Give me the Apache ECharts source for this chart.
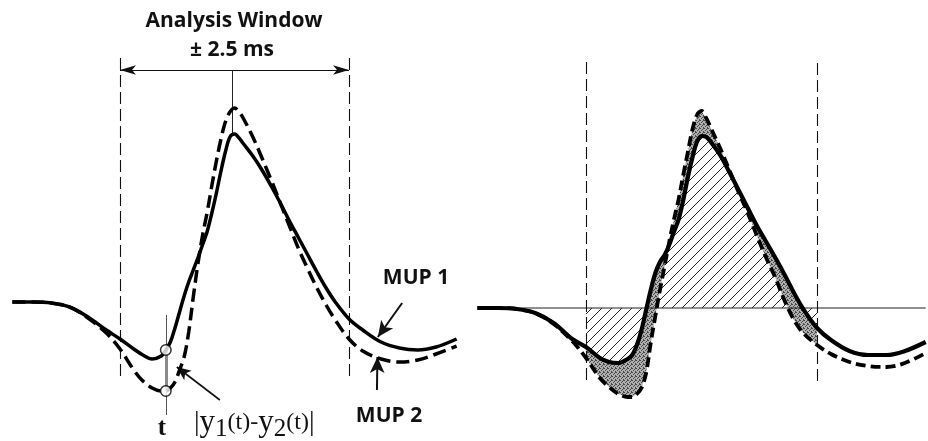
<!DOCTYPE html>
<html><head><meta charset="utf-8">
<script src="https://cdn.jsdelivr.net/npm/echarts@6/dist/echarts.min.js"></script>
<style>html,body{margin:0;padding:0;background:#fff}#c{width:928px;height:441px}</style>
</head><body><div id="c"></div>
<script>
// ---- data (time in ms relative to window centre, amplitude in arbitrary units) ----
const timeMs = [-4.85,-4.4,-4.0,-3.6,-3.2,-2.8,-2.5,-2.2,-2.0,-1.8,-1.6,-1.5,-1.4,-1.3,-1.2,-1.1,-1.0,-0.9,-0.8,-0.7,-0.6,-0.5,-0.4,-0.3,-0.2,-0.1,0,0.1,0.2,0.4,0.6,0.8,1.0,1.2,1.4,1.6,1.8,2.0,2.2,2.5,2.8,3.2,3.6,4.0,4.4,4.85];
const leftMup1 = [0,0,-0.01,-0.05,-0.15,-0.28,-0.37,-0.47,-0.53,-0.57,-0.54,-0.48,-0.40,-0.26,-0.10,0.06,0.20,0.32,0.44,0.57,0.70,0.88,1.08,1.30,1.50,1.65,1.68,1.64,1.58,1.46,1.32,1.16,0.99,0.81,0.64,0.47,0.30,0.14,0.00,-0.17,-0.28,-0.40,-0.46,-0.48,-0.45,-0.37];
const leftMup2 = [0,0,-0.01,-0.05,-0.16,-0.31,-0.47,-0.68,-0.79,-0.86,-0.89,-0.89,-0.86,-0.80,-0.68,-0.55,-0.30,0.05,0.38,0.66,0.89,1.15,1.40,1.62,1.80,1.90,1.94,1.90,1.83,1.65,1.44,1.22,0.99,0.76,0.53,0.33,0.14,-0.03,-0.18,-0.37,-0.49,-0.57,-0.60,-0.58,-0.52,-0.44];
const rightMup1 = [0,0,-0.01,-0.05,-0.15,-0.31,-0.39,-0.50,-0.54,-0.55,-0.51,-0.47,-0.37,-0.22,-0.02,0.18,0.35,0.46,0.53,0.63,0.76,0.88,1.07,1.30,1.50,1.66,1.72,1.71,1.66,1.53,1.36,1.18,1.00,0.82,0.66,0.50,0.33,0.15,-0.01,-0.20,-0.32,-0.43,-0.47,-0.47,-0.43,-0.34];
const rightMup2 = [0,0,-0.01,-0.05,-0.16,-0.33,-0.50,-0.70,-0.79,-0.86,-0.89,-0.89,-0.86,-0.80,-0.65,-0.35,-0.08,0.18,0.42,0.66,0.88,1.08,1.32,1.55,1.78,1.93,1.97,1.90,1.80,1.60,1.38,1.16,0.95,0.72,0.50,0.30,0.07,-0.12,-0.25,-0.37,-0.46,-0.54,-0.58,-0.59,-0.55,-0.45];
const windowHalfMs = 2.5;
const markerTimeMs = -1.5;
const titleLines = ['Analysis Window', '\u00B1 2.5 ms'];
const seriesLabels = ['MUP 1', 'MUP 2'];
const markerLabel = 't';

// ---- helpers ----
const pts = arr => timeMs.map((t, i) => [t, arr[i]]);
const inWin = timeMs.map(t => Math.abs(t) <= windowHalfMs + 1e-9);
const winPts = arr => pts(arr).filter((p, i) => inWin[i]);
const commonArr = rightMup1.map((v, i) => {
  const w = rightMup2[i];
  if (v * w <= 0) return 0;
  return Math.sign(v) * Math.min(Math.abs(v), Math.abs(w));
});
const mIdx = timeMs.indexOf(markerTimeMs);
const peakIdx = leftMup1.indexOf(Math.max(...leftMup1));

function hatchPattern() {
  const c = document.createElement('canvas'); c.width = 10; c.height = 10;
  const g = c.getContext('2d');
  g.strokeStyle = '#222'; g.lineWidth = 1;
  g.beginPath();
  g.moveTo(0, 10); g.lineTo(10, 0);
  g.moveTo(-1, 1); g.lineTo(1, -1);
  g.moveTo(9, 11); g.lineTo(11, 9);
  g.stroke();
  return c;
}
function stipplePattern() {
  const c = document.createElement('canvas'); c.width = 4; c.height = 4;
  const g = c.getContext('2d');
  g.fillStyle = '#b0b0b0'; g.fillRect(0, 0, 4, 4);
  g.fillStyle = '#474747';
  [[0,0],[2,1],[1,2],[3,3],[3,0]].forEach(p => g.fillRect(p[0], p[1], 1, 1));
  return c;
}
const hatch = hatchPattern();
const stipple = stipplePattern();

const base = {type: 'line', symbol: 'none', showSymbol: false, silent: true, animation: false, emphasis: {disabled: true}};
const thin = {color: '#111', width: 1.1, type: [12, 5]};
const arrowEnd = s => ({symbol: 'arrow', symbolSize: s});

const chart = echarts.init(document.getElementById('c'), null, {renderer: 'canvas'});
const option = {
  animation: false,
  backgroundColor: '#fff',
  grid: [
    {left: 5.5, width: 462.6, top: 0, height: 441},
    {left: 470.5, width: 461.3, top: 0, height: 441}
  ],
  xAxis: [
    {type: 'value', gridIndex: 0, min: -5, max: 5.1, show: false},
    {type: 'value', gridIndex: 1, min: -5, max: 4.9, show: false}
  ],
  yAxis: [
    {type: 'value', gridIndex: 0, min: -1.39, max: 3.02, show: false},
    {type: 'value', gridIndex: 1, min: -1.33, max: 3.08, show: false}
  ],
  series: [
    // ---------- left panel ----------
    Object.assign({}, base, {
      name: 'MUP 1 (left)', xAxisIndex: 0, yAxisIndex: 0, clip: false, z: 5,
      data: pts(leftMup1), smooth: 0.35,
      lineStyle: {color: '#000', width: 3.5},
      markLine: {
        silent: true, animation: false, symbol: ['none', 'none'], label: {show: false},
        lineStyle: {color: '#111', width: 1, type: 'solid'},
        data: [
          [{coord: [-windowHalfMs, 2.44], lineStyle: thin}, {coord: [-windowHalfMs, -0.76]}],
          [{coord: [windowHalfMs, 2.44], lineStyle: thin}, {coord: [windowHalfMs, -0.76]}],
          [Object.assign({coord: [-windowHalfMs, 2.32], lineStyle: {color: '#111', width: 1.2, type: 'solid'}}, arrowEnd([7, 16])),
           Object.assign({coord: [windowHalfMs, 2.32]}, arrowEnd([7, 16]))],
          [{coord: [timeMs[peakIdx] - 0.05, 2.32], lineStyle: {color: '#222', width: 1, type: 'solid'}}, {coord: [timeMs[peakIdx] - 0.05, leftMup1[peakIdx]]}],
          [{coord: [markerTimeMs, -0.13], lineStyle: {color: '#555', width: 1, type: 'solid'}}, {coord: [markerTimeMs, -1.13]}],
          [{coord: [markerTimeMs, leftMup1[mIdx]], lineStyle: {color: '#8a8a8a', width: 3, type: 'solid'}}, {coord: [markerTimeMs, leftMup2[mIdx]]}],
          [{coord: [-0.32, -0.98], lineStyle: {color: '#111', width: 1.6, type: 'solid'}}, Object.assign({coord: [-1.26, -0.65]}, arrowEnd([9, 14]))],
          [{coord: [3.66, -0.01], lineStyle: {color: '#111', width: 2, type: 'solid'}}, Object.assign({coord: [3.13, -0.35]}, arrowEnd([11, 16]))],
          [{coord: [3.11, -0.88], lineStyle: {color: '#111', width: 2, type: 'solid'}}, Object.assign({coord: [3.12, -0.55]}, arrowEnd([11, 16]))]
        ]
      }
    }),
    Object.assign({}, base, {
      name: 'MUP 2 (left)', xAxisIndex: 0, yAxisIndex: 0, clip: false, z: 5,
      data: pts(leftMup2), smooth: 0.35,
      lineStyle: {color: '#000', width: 3.5, type: [13, 6]}
    }),
    {
      type: 'scatter', name: 'marker', xAxisIndex: 0, yAxisIndex: 0, silent: true, animation: false, z: 8,
      data: [[markerTimeMs, leftMup1[mIdx]], [markerTimeMs, leftMup2[mIdx]]],
      symbol: 'circle', symbolSize: 10.5,
      itemStyle: {color: '#fff', borderColor: '#000', borderWidth: 1.5},
      emphasis: {disabled: true}
    },
    // ---------- right panel ----------
    {
      type: 'custom', name: 'common area', coordinateSystem: 'cartesian2d', xAxisIndex: 1, yAxisIndex: 1,
      silent: true, animation: false, z: 1, data: [[0, 0]],
      renderItem: (params, api) => {
        const p = winPts(commonArr);
        const poly = [api.coord([p[0][0], 0])].concat(p.map(q => api.coord(q)), [api.coord([p[p.length - 1][0], 0])]);
        return {type: 'polygon', shape: {points: poly}, style: {fill: {image: hatch, repeat: 'repeat'}, stroke: null}};
      }
    },
    {
      type: 'custom', name: 'difference area', coordinateSystem: 'cartesian2d', xAxisIndex: 1, yAxisIndex: 1,
      silent: true, animation: false, z: 2, data: [[0, 0]],
      renderItem: (params, api) => {
        const a = winPts(rightMup1).map(q => api.coord(q));
        const b = winPts(rightMup2).map(q => api.coord(q)).reverse();
        return {type: 'polygon', shape: {points: a.concat(b)}, style: {fill: {image: stipple, repeat: 'repeat'}, stroke: null}};
      }
    },
    Object.assign({}, base, {
      name: 'baseline', xAxisIndex: 1, yAxisIndex: 1, clip: false, z: 3,
      data: [[timeMs[0], 0], [timeMs[timeMs.length - 1], 0]],
      lineStyle: {color: '#222', width: 1},
      markLine: {
        silent: true, animation: false, symbol: ['none', 'none'], label: {show: false},
        data: [
          [{coord: [-windowHalfMs, 2.46], lineStyle: thin}, {coord: [-windowHalfMs, -0.72]}],
          [{coord: [windowHalfMs, 2.45], lineStyle: thin}, {coord: [windowHalfMs, -0.74]}]
        ]
      }
    }),
    Object.assign({}, base, {
      name: 'MUP 1 (right)', xAxisIndex: 1, yAxisIndex: 1, clip: false, z: 5,
      data: pts(rightMup1), smooth: 0.35,
      lineStyle: {color: '#000', width: 4.2}
    }),
    Object.assign({}, base, {
      name: 'MUP 2 (right)', xAxisIndex: 1, yAxisIndex: 1, clip: false, z: 5,
      data: pts(rightMup2), smooth: 0.35,
      lineStyle: {color: '#000', width: 3.8, type: [10, 5]}
    })
  ],
  graphic: [
    {type: 'text', x: 234, y: 21, silent: true, style: {text: titleLines[0], font: 'bold 21px "Open Sans"', fill: '#111', align: 'center', verticalAlign: 'middle'}},
    {type: 'text', x: 232, y: 50, silent: true, style: {text: titleLines[1], font: 'bold 21px "Open Sans"', fill: '#111', align: 'center', verticalAlign: 'middle'}},
    {type: 'text', x: 416, y: 278, silent: true, style: {text: seriesLabels[0], font: 'bold 21px "Open Sans"', fill: '#111', align: 'center', verticalAlign: 'middle'}},
    {type: 'text', x: 389, y: 416, silent: true, style: {text: seriesLabels[1], font: 'bold 21px "Open Sans"', fill: '#111', align: 'center', verticalAlign: 'middle'}},
    {type: 'text', x: 162, y: 429, silent: true, style: {text: markerLabel, font: 'bold 25px "Liberation Serif"', fill: '#111', align: 'center', verticalAlign: 'middle'}},
    {type: 'text', x: 194, y: 423, silent: true, style: {
      text: '{b||}{y|y}{s|1}{p|(t)-}{y|y}{s|2}{p|(t)}{b||}',
      align: 'left', verticalAlign: 'middle', fill: '#111',
      rich: {
        b: {font: '28px "Liberation Serif"', lineHeight: 38, verticalAlign: 'middle', fill: '#111'},
        y: {font: '31px "Liberation Serif"', lineHeight: 38, verticalAlign: 'middle', fill: '#111'},
        s: {font: '25px "Liberation Serif"', lineHeight: 24, verticalAlign: 'bottom', fill: '#111'},
        p: {font: '24px "Liberation Serif"', lineHeight: 24, verticalAlign: 'middle', fill: '#111'}
      }
    }}
  ]
};
chart.setOption(option);
</script></body></html>
